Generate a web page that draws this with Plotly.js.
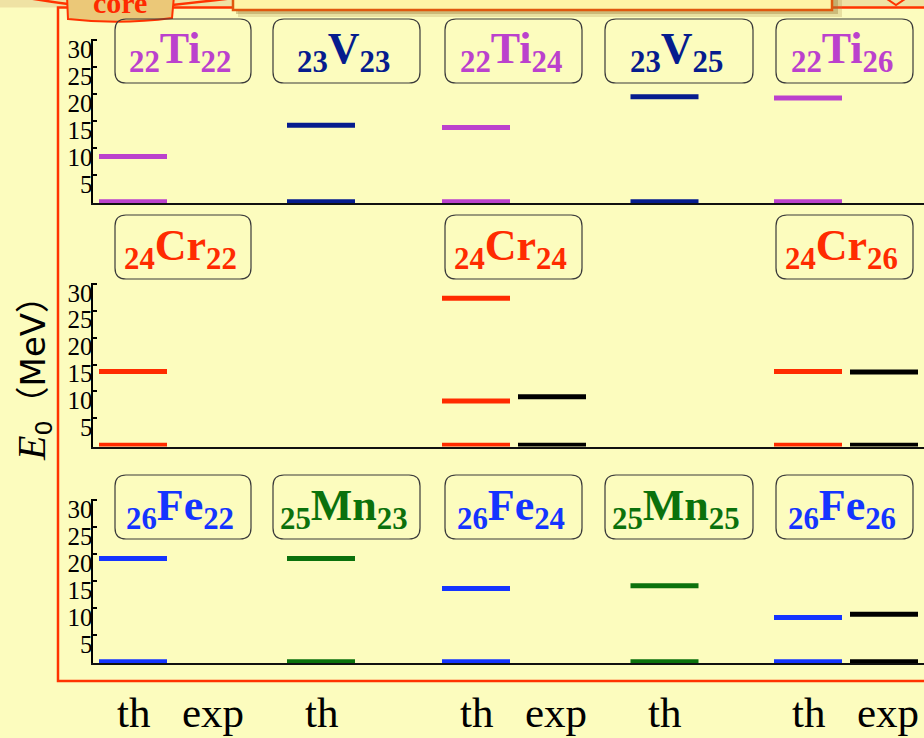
<!DOCTYPE html>
<html>
<head>
<meta charset="utf-8">
<script src="https://cdn.plot.ly/plotly-3.0.1.min.js"></script>
<style>
  html, body { margin: 0; padding: 0; background: #FCFCBE; }
  #chart { width: 924px; height: 738px; }
</style>
</head>
<body>
<div id="chart"></div>
<script>
// ---- Nuclei: element symbol, proton number Z, neutron number N ----
const nucSymbol = ['Ti', 'V', 'Ti', 'V', 'Ti', 'Cr', 'Cr', 'Cr', 'Fe', 'Mn', 'Fe', 'Mn', 'Fe'];
const nucZ      = [22, 23, 22, 23, 22, 24, 24, 24, 26, 25, 26, 25, 26];
const nucN      = [22, 23, 24, 25, 26, 22, 24, 26, 22, 23, 24, 25, 26];

// ---- Level energies E0 (MeV): theory and experiment ----
const thLevels = [
  [0, 8.4], [0, 14.2], [0, 13.8], [0, 19.5], [0, 19.3],
  [0, 13.7], [0, 8.2, 27.3], [0, 13.7],
  [0, 19.2], [0, 19.2], [0, 13.6], [0, 14.1], [0, 8.2]
];
const expLevels = [
  [], [], [], [], [],
  [], [0, 9.0], [0, 13.6],
  [], [], [], [], [0, 8.8]
];

// ---- Axis ticks and column captions ----
const yTicks = [5, 10, 15, 20, 25, 30];
const captionCol  = [0, 0, 1, 2, 2, 3, 4, 4];
const captionKind = ['th', 'exp', 'th', 'th', 'exp', 'th', 'th', 'exp'];

// ---- Styling / geometry ----
const W = 924, H = 738;
const X = p => p / W;
const Y = p => 1 - p / H;
const BG = '#FCFCBE';
const elementColor = { Ti: '#BB41CD', V: '#061C8E', Cr: '#FF2B00', Fe: '#1434FF', Mn: '#0B710C' };
const EXP_COLOR = '#000000';
const elementRow = { Ti: 0, V: 0, Cr: 1, Fe: 2, Mn: 2 };
const colTh = [40, 228, 383, 571.5, 715];   // x-units from the energy axis
const EXP_GAP = 76;
const CAPTION_EXP_GAP = 80;
const HALF = 34;
const rowPx = [[203, 39], [446.5, 282.5], [663, 499]];  // [bottom, top] in px
const boxX = [[115, 251], [273, 420], [445, 582], [605, 753], [776, 913]];
const boxTop = [19, 215, 475];
const BOX_H = 64;

function axisName(r, letter) { return letter + (r === 0 ? '' : (r + 1)); }

const traces = [];
nucSymbol.forEach((sym, i) => {
  const r = elementRow[sym];
  const c = nucN[i] - 22;
  const xa = axisName(r, 'x'), ya = axisName(r, 'y');
  const addLevels = (levels, xc, color) => {
    if (!levels.length) return;
    const xs = [], ys = [];
    levels.forEach(e => { xs.push(xc - HALF, xc + HALF, null); ys.push(e, e, null); });
    traces.push({
      type: 'scatter', mode: 'lines', x: xs, y: ys, xaxis: xa, yaxis: ya,
      line: { color: color, width: 5 }, hoverinfo: 'skip', showlegend: false
    });
  };
  addLevels(thLevels[i], colTh[c], elementColor[sym]);
  addLevels(expLevels[i], colTh[c] + EXP_GAP, EXP_COLOR);
});

const layout = {
  width: W, height: H,
  margin: { l: 0, r: 0, t: 0, b: 0 },
  paper_bgcolor: BG, plot_bgcolor: 'rgba(0,0,0,0)',
  showlegend: false,
  shapes: [], annotations: []
};

rowPx.forEach(([bot, top], r) => {
  const xKey = r === 0 ? 'xaxis' : 'xaxis' + (r + 1);
  const yKey = r === 0 ? 'yaxis' : 'yaxis' + (r + 1);
  layout[xKey] = {
    domain: [X(93), 1], range: [0, 831], anchor: axisName(r, 'y'),
    showline: true, linecolor: '#111', linewidth: 2, showgrid: false, zeroline: false,
    showticklabels: false, ticks: '', fixedrange: true
  };
  layout[yKey] = {
    domain: [Y(bot), Y(top)], range: [-0.25, 30.25], anchor: axisName(r, 'x'),
    showline: true, linecolor: '#000', linewidth: 2.5, showgrid: false, zeroline: false,
    tickmode: 'array', tickvals: yTicks, ticks: 'inside', ticklen: 4, tickwidth: 2, tickcolor: '#000',
    ticklabelshift: 9, ticklabelstandoff: -7,
    tickfont: { family: 'Liberation Serif', size: 25, color: '#000' }, fixedrange: true
  };
});

// rounded label box path in paper units
function rrect(x0, y0, x1, y1, rad) {
  const p = (x, y) => X(x).toFixed(5) + ',' + Y(y).toFixed(5);
  return 'M' + p(x0 + rad, y0) + ' L' + p(x1 - rad, y0) + ' Q' + p(x1, y0) + ' ' + p(x1, y0 + rad) +
    ' L' + p(x1, y1 - rad) + ' Q' + p(x1, y1) + ' ' + p(x1 - rad, y1) +
    ' L' + p(x0 + rad, y1) + ' Q' + p(x0, y1) + ' ' + p(x0, y1 - rad) +
    ' L' + p(x0, y0 + rad) + ' Q' + p(x0, y0) + ' ' + p(x0 + rad, y0) + ' Z';
}
function pathPx(pts) {
  return pts.map(s => s.replace(/(-?[\d.]+),(-?[\d.]+)/g, (m, a, b) => X(+a).toFixed(5) + ',' + Y(+b).toFixed(5))).join(' ');
}
const pshape = (path, extra) => Object.assign({ type: 'path', xref: 'paper', yref: 'paper', path: path, layer: 'below' }, extra);
const rshape = (x0, y0, x1, y1, extra) => Object.assign({ type: 'rect', xref: 'paper', yref: 'paper',
  x0: X(x0), x1: X(x1), y0: Y(y0), y1: Y(y1), layer: 'below' }, extra);

// slide header strip, frame, banner and tab
layout.shapes.push(rshape(0, -5, W, 7.5, { fillcolor: '#EFE2A4', line: { width: 0 } }));
layout.shapes.push(rshape(58, 7.5, 960, 681, { fillcolor: 'rgba(0,0,0,0)', line: { color: '#FF3300', width: 2.5 } }));
layout.shapes.push(rshape(238, -5, 842, 17, { fillcolor: 'rgba(170,140,70,0.25)', line: { width: 0 } }));
layout.shapes.push(rshape(236, -5, 838, 14, { fillcolor: 'rgba(150,115,50,0.35)', line: { width: 0 } }));
layout.shapes.push(rshape(233, -10, 832, 10, { fillcolor: '#FFF4A6', line: { color: '#E0580E', width: 2.5 } }));
layout.shapes.push(pshape(pathPx(['M68,4', 'Q45,1', '22,-3']), { line: { color: '#FF3300', width: 2.5 } }));
layout.shapes.push(pshape(pathPx(['M172,5', 'Q200,2', '234,-2']), { line: { color: '#FF3300', width: 2.5 } }));
layout.shapes.push(pshape(pathPx(['M67,-4', 'L174,-4', 'L172,18', 'Q120,25', '68,19', 'Z']),
  { fillcolor: '#EBC878', line: { color: '#FF3300', width: 2 } }));
layout.shapes.push(pshape(pathPx(['M887,-1', 'L896,5', 'L905,-1']), { line: { color: '#FF3300', width: 2 } }));

layout.annotations.push({
  xref: 'paper', yref: 'paper', x: X(120), y: Y(3), xanchor: 'center', yanchor: 'middle',
  text: '<b>core</b>', showarrow: false,
  font: { family: 'Liberation Serif', size: 30, color: '#FF2A00' }
});

// nucleus label boxes
nucSymbol.forEach((sym, i) => {
  const r = elementRow[sym];
  const c = nucN[i] - 22;
  const [bx0, bx1] = boxX[c];
  const by0 = boxTop[r], by1 = by0 + BOX_H;
  layout.shapes.push(pshape(rrect(bx0, by0, bx1, by1, 11), { fillcolor: 'rgba(0,0,0,0)', line: { color: '#3A3A3A', width: 1.2 } }));
  layout.annotations.push({
    xref: 'paper', yref: 'paper', x: X((bx0 + bx1) / 2 - 3), y: Y(by0 + 33), xanchor: 'center', yanchor: 'middle',
    text: '<b><sub>' + nucZ[i] + '</sub>' + sym + '<sub>' + nucN[i] + '</sub></b>', showarrow: false,
    font: { family: 'Liberation Serif', size: 44, color: elementColor[sym] }
  });
});

// column captions under the bottom row
captionCol.forEach((c, k) => {
  layout.annotations.push({
    xref: 'x3', yref: 'paper', x: colTh[c] + (captionKind[k] === 'exp' ? CAPTION_EXP_GAP : 0), y: Y(712),
    xanchor: 'center', yanchor: 'middle', text: captionKind[k], showarrow: false,
    font: { family: 'Liberation Serif', size: 43, color: '#000' }
  });
});

// energy axis title
layout.annotations.push({
  xref: 'paper', yref: 'paper', x: X(34), y: Y(370), xanchor: 'center', yanchor: 'middle',
  textangle: -90, showarrow: false,
  text: '<span style="font-family:Liberation Serif;font-size:40px"><i>E</i></span><sub>0</sub>（MeV）',
  font: { family: 'DejaVu Sans, Noto Sans CJK SC', size: 34, color: '#000' }
});

Plotly.newPlot('chart', traces, layout, { displayModeBar: false, staticPlot: true });
</script>
</body>
</html>
